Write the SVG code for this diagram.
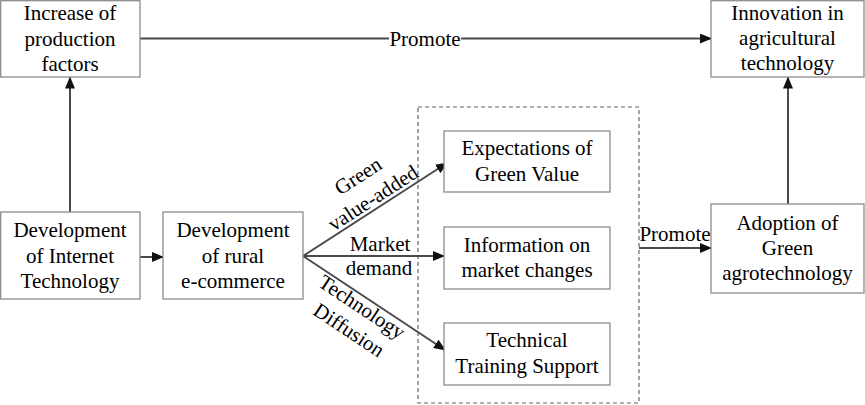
<svg xmlns="http://www.w3.org/2000/svg" width="865" height="405" viewBox="0 0 865 405">
<style>
.box{fill:#fff;stroke:#8c8c8c;stroke-width:1.3}
.dash{fill:none;stroke:#666;stroke-width:1.2;stroke-dasharray:4 3}
.ln{fill:none;stroke:#4a4a4a;stroke-width:2}
text{font-family:'Liberation Serif','Tinos','DejaVu Serif','Noto Serif',serif;font-size:21px;fill:#000;text-anchor:middle}
</style>
<defs>
<marker id="ah" markerWidth="12" markerHeight="10" refX="11" refY="5" orient="auto" markerUnits="userSpaceOnUse">
<path d="M0,0 L12,5 L0,10 Z" fill="#111"/>
</marker>
</defs>
<rect width="865" height="405" fill="#fff"/>
<rect class="dash" x="418" y="107" width="221" height="296"/>
<g id="connectors" font-family="Liberation Serif, DejaVu Serif, serif">
<line class="ln" x1="140" y1="38.5" x2="389" y2="38.5"/>
<line class="ln" x1="461" y1="38.5" x2="711" y2="38.5" marker-end="url(#ah)"/>
<line class="ln" x1="70" y1="212" x2="70" y2="77.5" marker-end="url(#ah)"/>
<line class="ln" x1="788" y1="204" x2="788" y2="77.5" marker-end="url(#ah)"/>
<line class="ln" x1="140" y1="257" x2="163" y2="257" marker-end="url(#ah)"/>
<line class="ln" x1="303" y1="256" x2="447" y2="163" marker-end="url(#ah)"/>
<line class="ln" x1="303" y1="256" x2="444" y2="256" marker-end="url(#ah)"/>
<line class="ln" x1="303" y1="256" x2="445" y2="350" marker-end="url(#ah)"/>
<line class="ln" x1="639" y1="248" x2="711" y2="248" marker-end="url(#ah)"/>
<text x="425" y="46">Promote</text>
<text x="675" y="241">Promote</text>
<text transform="translate(358,176) rotate(-33)" y="7">Green</text>
<text transform="translate(373,198) rotate(-33)" y="7">value-added</text>
<text x="380" y="251">Market</text>
<text x="379" y="275">demand</text>
<text transform="translate(362,307) rotate(33.5)" y="7">Technology</text>
<text transform="translate(349,330) rotate(33.5)" y="7">Diffusion</text>
</g>
<g id="increase">
<rect class="box" x="0.7" y="0.7" width="139.3" height="76.3"/>
<text x="70" y="20">Increase of</text>
<text x="70" y="45.5">production</text>
<text x="70" y="71">factors</text>
</g>
<g id="internet">
<rect class="box" x="0.7" y="212" width="139.3" height="87"/>
<text x="70" y="237">Development</text>
<text x="70" y="263">of Internet</text>
<text x="70" y="288">Technology</text>
</g>
<g id="ecommerce">
<rect class="box" x="163" y="212" width="140" height="87"/>
<text x="233" y="237">Development</text>
<text x="233" y="263">of rural</text>
<text x="233" y="288">e-commerce</text>
</g>
<g id="expectations">
<rect class="box" x="444" y="131" width="166" height="61"/>
<text x="527" y="155">Expectations of</text>
<text x="527" y="181">Green Value</text>
</g>
<g id="information">
<rect class="box" x="444" y="227" width="166" height="62"/>
<text x="527" y="252">Information on</text>
<text x="527" y="277">market changes</text>
</g>
<g id="training">
<rect class="box" x="444" y="323" width="166" height="62"/>
<text x="527" y="347">Technical</text>
<text x="527" y="373">Training Support</text>
</g>
<g id="innovation">
<rect class="box" x="711" y="0.7" width="153" height="76.3"/>
<text x="787.5" y="20">Innovation in</text>
<text x="787.5" y="45">agricultural</text>
<text x="787.5" y="70">technology</text>
</g>
<g id="adoption">
<rect class="box" x="711" y="204" width="153" height="89"/>
<text x="787.5" y="230">Adoption of</text>
<text x="787.5" y="255">Green</text>
<text x="787.5" y="280">agrotechnology</text>
</g>
</svg>
